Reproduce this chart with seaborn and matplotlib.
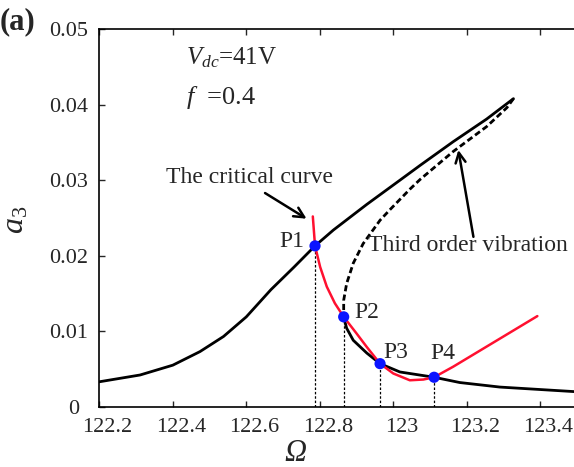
import matplotlib
matplotlib.use("Agg")
import matplotlib.pyplot as plt
import matplotlib.transforms as mtransforms
import seaborn as sns
import pandas as pd

# ---- data ----
stable_upper_x = [122.200, 122.311, 122.400, 122.474, 122.538, 122.600, 122.667,
                  122.730, 122.787, 122.837, 122.928, 123.018, 123.074, 123.163,
                  123.254, 123.327]
stable_upper_y = [0.0033, 0.0042, 0.0055, 0.0073, 0.0093, 0.0119, 0.0155,
                  0.0185, 0.0213, 0.0234, 0.0268, 0.0300, 0.0320, 0.0351,
                  0.0381, 0.0408]

unstable_x = [123.327, 123.309, 123.254, 123.163, 123.073, 123.045, 122.991,
              122.964, 122.918, 122.891, 122.873, 122.865, 122.865]
unstable_y = [0.0408, 0.0396, 0.0371, 0.0338, 0.0301, 0.0288, 0.0261,
              0.0247, 0.0216, 0.0190, 0.0163, 0.0141, 0.0119]

stable_lower_x = [122.865, 122.873, 122.891, 122.928, 122.964, 123.018, 123.111,
                  123.181, 123.290, 123.492]
stable_lower_y = [0.0119, 0.0104, 0.0088, 0.0071, 0.0057, 0.0046, 0.0039,
                  0.0032, 0.0026, 0.0020]

critical_x = [122.781, 122.787, 122.801, 122.819, 122.841, 122.865, 122.900,
              122.928, 122.964, 123.000, 123.045, 123.082, 123.111, 123.163, 123.392]
critical_y = [0.0252, 0.0213, 0.0185, 0.0159, 0.0137, 0.0119, 0.0097,
              0.0079, 0.0057, 0.0044, 0.0035, 0.0036, 0.0039, 0.0053, 0.0120]

point_labels = ["P1", "P2", "P3", "P4"]
point_x = [122.787, 122.865, 122.964, 123.111]
point_y = [0.0213, 0.0119, 0.0057, 0.0039]
label_x = [122.723, 122.929, 123.007, 123.134]
label_y = [0.02185, 0.0125, 0.0072, 0.0071]

x_ticks = [122.2, 122.4, 122.6, 122.8, 123.0, 123.2, 123.4]
x_tick_labels = ["122.2", "122.4", "122.6", "122.8", "123", "123.2", "123.4"]
y_ticks = [0, 0.01, 0.02, 0.03, 0.04, 0.05]
y_tick_labels = ["0", "0.01", "0.02", "0.03", "0.04", "0.05"]

# ---- style ----
sns.set_theme(style="ticks")
plt.rcParams["font.family"] = ["Liberation Serif", "DejaVu Serif"]
plt.rcParams["mathtext.fontset"] = "custom"
plt.rcParams["mathtext.rm"] = "Liberation Serif"
plt.rcParams["mathtext.it"] = "Liberation Serif:italic"
plt.rcParams["mathtext.bf"] = "Liberation Serif:bold"

fig = plt.figure(figsize=(5.74, 4.67), dpi=100)
ax = fig.add_axes([99.3 / 574, (467 - 406.7) / 467, 1 - 99.3 / 574, (406.7 - 29.2) / 467])

df_up = pd.DataFrame({"x": stable_upper_x, "y": stable_upper_y})
df_un = pd.DataFrame({"x": unstable_x, "y": unstable_y})
df_lo = pd.DataFrame({"x": stable_lower_x, "y": stable_lower_y})
df_cr = pd.DataFrame({"x": critical_x, "y": critical_y})
df_pt = pd.DataFrame({"x": point_x, "y": point_y})

# dotted drop lines
for px, py in zip(point_x, point_y):
    ax.plot([px, px], [0, py], color="black", lw=0.9, ls=(0, (2, 1.5)), zorder=1)

common = dict(ax=ax, sort=False, estimator=None)
sns.lineplot(data=df_up, x="x", y="y", color="black", lw=2.0, zorder=3, **common)
sns.lineplot(data=df_lo, x="x", y="y", color="black", lw=2.0, zorder=3, **common)
sns.lineplot(data=df_un, x="x", y="y", color="black", lw=2.0, zorder=3,
             linestyle=(0, (2.2, 1.2)), **common)
sns.lineplot(data=df_cr, x="x", y="y", color="#ff1030", lw=1.8, zorder=4, **common)
sns.scatterplot(data=df_pt, x="x", y="y", ax=ax, color="#0a14ff", s=65,
                edgecolor="none", zorder=5)

for lab, lx, ly in zip(point_labels, label_x, label_y):
    ax.text(lx, ly, lab, fontsize=17, ha="center", va="center", zorder=6)

ax.set_xlim(122.2, 122.2 + (574 - 99.3) / 367.5)
ax.set_ylim(0, 0.05)
ax.set_xticks(x_ticks)
ax.set_xticklabels(x_tick_labels)
ax.set_yticks(y_ticks)
ax.set_yticklabels(y_tick_labels)
ax.tick_params(direction="in", top=True, length=4, width=1, labelsize=16)
ax.tick_params(axis="x", pad=8)
ax.tick_params(axis="y", pad=8)
ax.spines["right"].set_visible(False)
for s in ["left", "bottom", "top"]:
    ax.spines[s].set_linewidth(1.2)
    ax.spines[s].set_color("black")

# small label offsets as in the reference
for lbl in ax.get_xticklabels():
    lbl.set_transform(lbl.get_transform() +
                      mtransforms.ScaledTranslation(8 / 100, 0, fig.dpi_scale_trans))
zero_lbl = ax.get_yticklabels()[0]
zero_lbl.set_transform(zero_lbl.get_transform() +
                       mtransforms.ScaledTranslation(-9 / 100, 0, fig.dpi_scale_trans))

ax.set_xlabel("Ω", fontsize=22, fontstyle="italic")
ax.xaxis.set_label_coords((295 - 99.3) / 474.7, (406.7 - 439) / 377.5)
ax.set_ylabel(r"$a_3$", fontsize=23)
ax.yaxis.set_label_coords((30 - 99.3) / 474.7, (406.7 - 220) / 377.5)

# annotations
ax.text(122.4355, 0.0462, r"$V_{dc}$=41V", fontsize=18, ha="left", va="center")
ax.text(122.437, 0.0410, r"$f$  =0.4", fontsize=19, ha="left", va="center")

ax.text(122.609, 0.0303, "The critical curve", fontsize=17, ha="center", va="center")
ax.annotate("", xy=(122.764, 0.0249), xytext=(122.651, 0.0283),
            arrowprops=dict(arrowstyle="->", color="black", lw=1.8,
                            shrinkA=0, shrinkB=0, mutation_scale=18))
ax.text(123.202, 0.0214, "Third order vibration", fontsize=17, ha="center", va="center")
ax.annotate("", xy=(123.177, 0.0340), xytext=(123.218, 0.0225),
            arrowprops=dict(arrowstyle="->", color="black", lw=1.8,
                            shrinkA=0, shrinkB=0, mutation_scale=18))

fig.text(0.0, 1 - 22 / 467, "(a)", fontsize=22, fontweight="bold", ha="left", va="center")

fig.savefig("out.png", dpi=100)
